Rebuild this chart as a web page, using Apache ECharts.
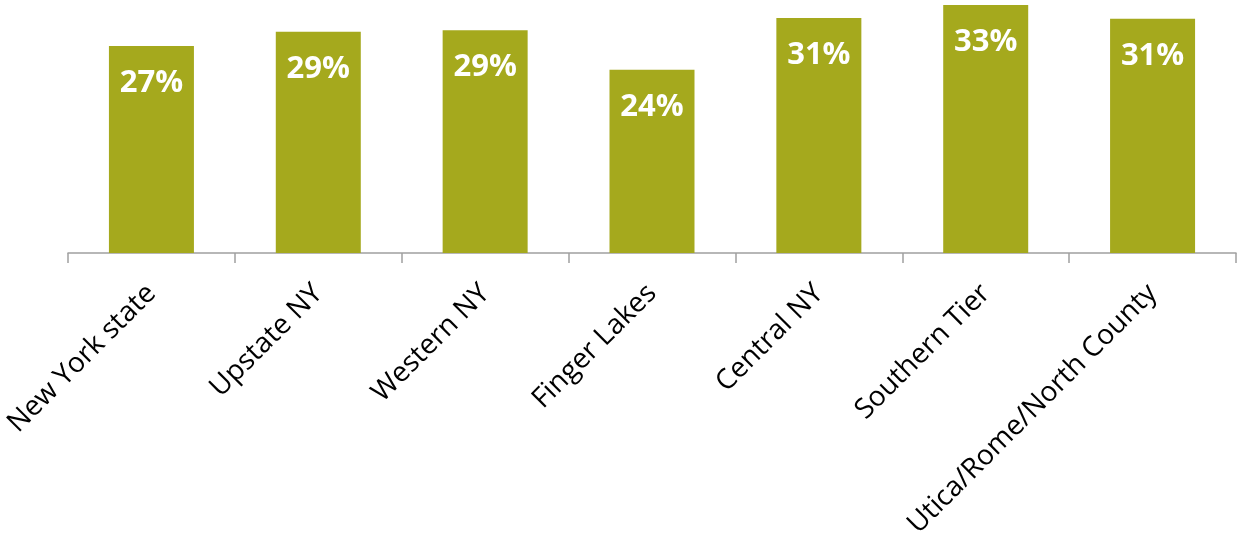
<!DOCTYPE html>
<html><head><meta charset="utf-8">
<script src="https://cdn.jsdelivr.net/npm/echarts@6/dist/echarts.min.js"></script>
<style>html,body{margin:0;padding:0;background:#fff}#c{width:1238px;height:541px}</style>
</head><body><div id="c"></div>
<script>
const categories = ["New York state","Upstate NY","Western NY","Finger Lakes","Central NY","Southern Tier","Utica/Rome/North County"];
const values = [27.2, 29.1, 29.3, 24.1, 30.9, 32.6, 30.8];

const chart = echarts.init(document.getElementById('c'), null, {renderer:'canvas'});
chart.setOption({
  animation:false,
  grid:{left:68,right:2,top:2,bottom:287,containLabel:false},
  xAxis:{type:'category',data:categories,
    axisLine:{lineStyle:{color:'#a0a0a0',width:1.5}},
    axisTick:{show:true,length:10,lineStyle:{color:'#a0a0a0',width:1.5}},
    axisLabel:{rotate:45,interval:0,margin:36,fontFamily:'Open Sans',fontSize:28,color:'#000'}},
  yAxis:{type:'value',min:0,max:33,show:false,splitLine:{show:false}},
  series:[{type:'bar',data:values,barWidth:85,
    itemStyle:{color:'#a5a91d'},
    label:{show:true,position:'insideTop',distance:22,color:'#fff',fontFamily:'Open Sans',fontWeight:'bold',fontSize:31,
      formatter:p=>Math.round(p.value)+'%'}}]
});
</script></body></html>
